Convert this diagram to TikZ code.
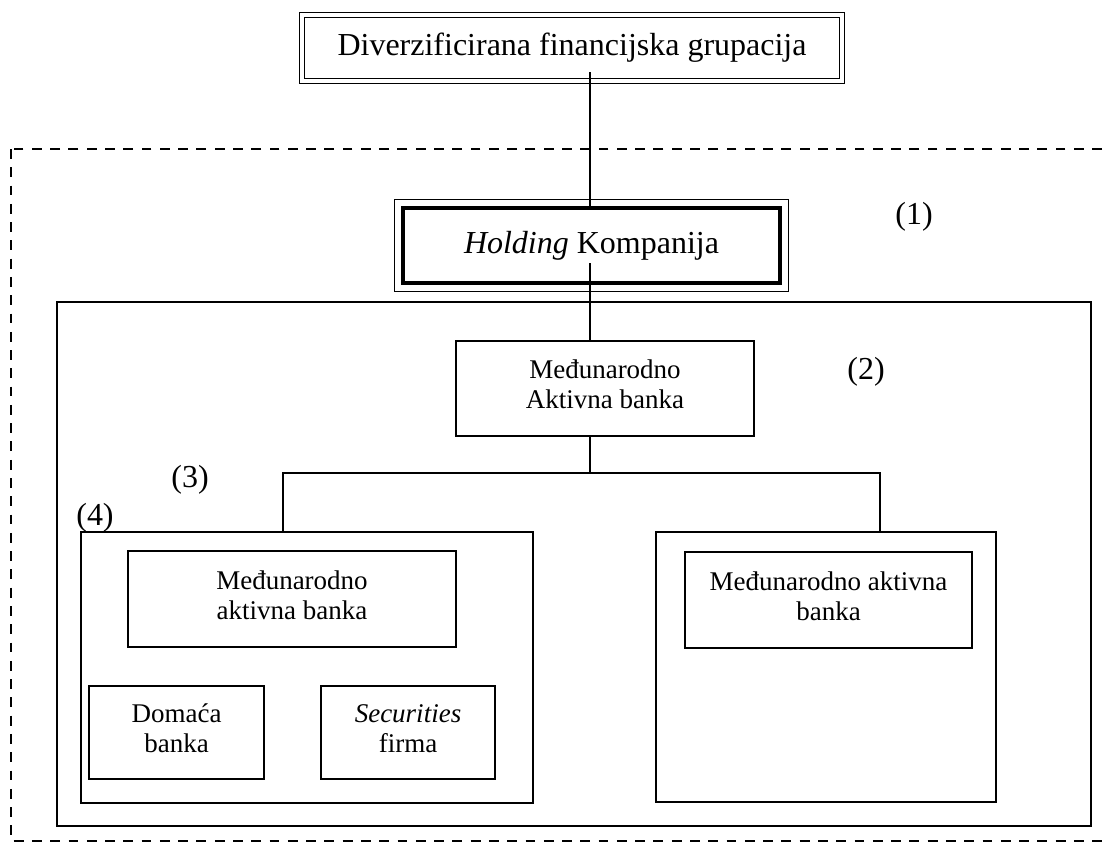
\documentclass[tikz,border=0pt]{standalone}
\usepackage{fontspec}
\setmainfont{Liberation Serif}
\newcommand{\titlefont}{\fontsize{22.75}{26}\selectfont}
\newcommand{\boxfont}{\fontsize{19.2}{21.3}\selectfont}
\tikzset{
  bankbox/.style={draw, line width=1.2pt, align=center, inner sep=0pt, text depth=5.7pt, font=\boxfont},
  groupbox/.style={draw, line width=1.2pt, inner sep=0pt},
  doubleframe/.style={draw, double, double distance=2.9pt, line width=0.7pt, inner sep=0pt, font=\titlefont},
  thickframe/.style={draw, line width=3.4pt, inner sep=0pt, font=\titlefont},
  tag/.style={inner sep=0pt, font=\titlefont},
  zonebox/.style={draw, line width=1.3pt, dash pattern=on 7pt off 6pt},
  link/.style={line width=1.2pt}
}

\begin{document}
\begin{tikzpicture}[x=0.025cm, y=-0.025cm]
    \useasboundingbox (0,0) rectangle (1110,848);
    \draw[zonebox] (11,149) rectangle (1135,841);
    \draw[groupbox] (57,302) rectangle (1091,826);
    \node[doubleframe, minimum width=13.51cm, minimum height=1.64cm] (title) at (572,48) {Diverzificirana financijska grupacija};
    \node[thickframe, minimum width=9.425cm, minimum height=1.875cm] (hold) at (591.5,245.5) {\textit{Holding} Kompanija};
    \draw[line width=0.8pt] ([shift={(-6,-6)}]hold.north west) rectangle ([shift={(6,6)}]hold.south east);
    \node[bankbox, minimum width=7.45cm, minimum height=2.375cm] (mid) at (605,388.5) {Međunarodno\\Aktivna banka};
    \node[groupbox, minimum width=11.3cm, minimum height=6.775cm] (left) at (307,667.5) {};
    \node[groupbox, minimum width=8.5cm, minimum height=6.75cm] (right) at (826,667) {};
    \node[bankbox, minimum width=8.2cm, minimum height=2.4cm] (lbank) at (292,599) {Međunarodno\\aktivna banka};
    \node[bankbox, minimum width=7.175cm, minimum height=2.4cm] (rbank) at (828.5,600) {Međunarodno aktivna\\banka};
    \node[bankbox, minimum width=4.375cm, minimum height=2.325cm] (dom) at (176.5,732.5) {Domaća\\banka};
    \node[bankbox, minimum width=4.35cm, minimum height=2.325cm] (sec) at (408,732.5) {\textit{Securities}\\firma};
    \node[tag] (n1) at (914,217) {(1)};
    \node[tag] (n2) at (866,372) {(2)};
    \node[tag] (n3) at (190,480) {(3)};
    \node[tag] (n4) at (95,518) {(4)};
    \coordinate (top) at (590,72);
    \coordinate (down) at (590,263);
    \coordinate (split) at (590,473);
    \coordinate (splitL) at (283,473);
    \coordinate (splitR) at (880,473);
    \draw[link] (top) -- (top |- hold.north);
    \draw[link] (down) -- (down |- mid.north);
    \draw[link] (mid.south -| split) -- (split);
    \draw[link] (splitL |- left.north) -- (splitL) -- (splitR) -- (splitR |- right.north);
\end{tikzpicture}
\end{document}
